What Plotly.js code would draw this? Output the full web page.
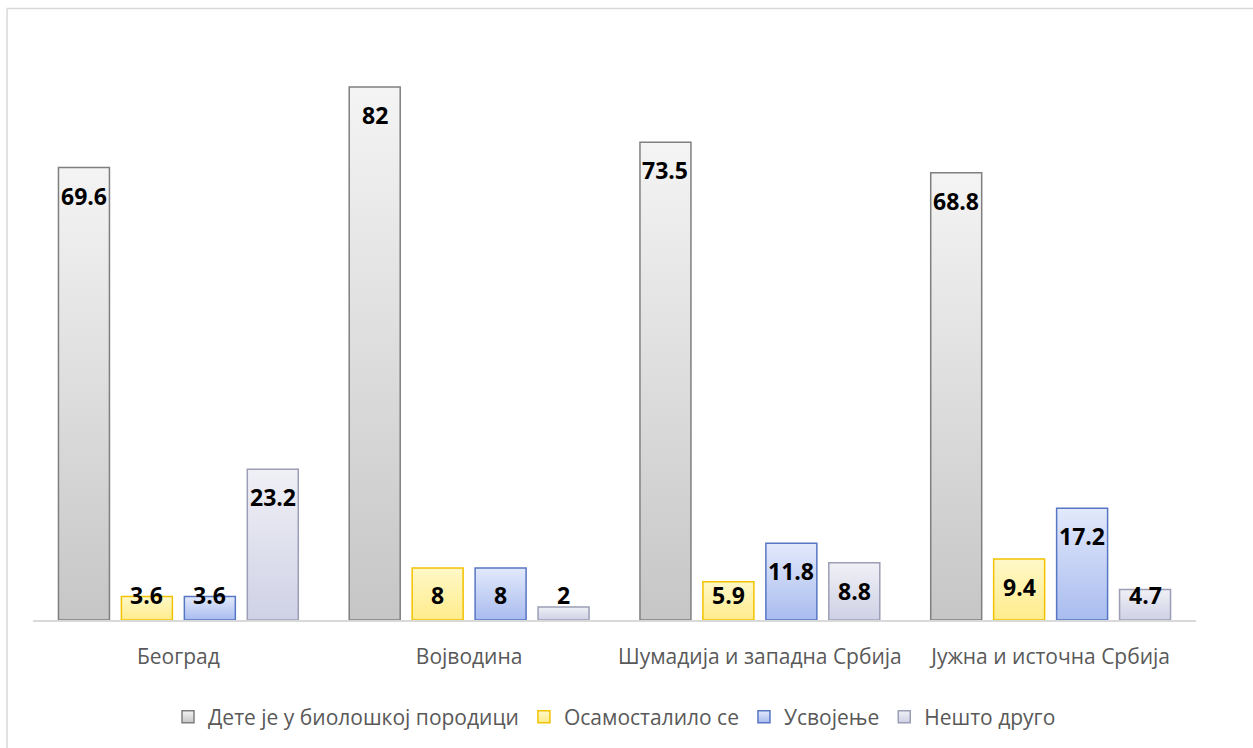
<!DOCTYPE html>
<html>
<head>
<meta charset="utf-8">
<script src="https://cdn.plot.ly/plotly-3.0.1.min.js"></script>
<style>
  html, body { margin: 0; padding: 0; background: #fff; }
  #chart { width: 1253px; height: 748px; }
</style>
</head>
<body>
<div id="chart"></div>
<script>
const categories = ["Београд", "Војводина", "Шумадија и западна Србија", "Јужна и источна Србија"];
const seriesNames = ["Дете је у биолошкој породици", "Осамосталило се", "Усвојење", "Нешто друго"];
const biological = [69.6, 82, 73.5, 68.8];
const independent = [3.6, 8, 5.9, 9.4];
const adoption = [3.6, 8, 11.8, 17.2];
const other = [23.2, 2, 8.8, 4.7];

const seriesValues = [biological, independent, adoption, other];
const fillColors = ["#dedede", "#fff3ad", "#c6d3f5", "#dfe0ec"];
const lineColors = ["#7f7f7f", "#f2c200", "#5776c4", "#9c9eb6"];
const gradTop = ["#f4f4f4", "#fff8c8", "#e2e9fb", "#f0f0f6"];
const gradBottom = ["#c6c6c6", "#ffec8c", "#a9bcef", "#cfd1e5"];

const bargap = 0.134;
const nSeries = seriesValues.length;
const slot = (1 - bargap) / nSeries;

const traces = seriesValues.map((vals, j) => ({
  type: "bar",
  name: seriesNames[j],
  x: categories,
  y: vals,
  marker: { color: fillColors[j], line: { color: lineColors[j], width: 1.5 } },
  hoverinfo: "none"
}));

const annotations = [];
seriesValues.forEach((vals, j) => {
  vals.forEach((v, i) => {
    annotations.push({
      x: i + (j - (nSeries - 1) / 2) * slot,
      y: Math.max(v - 4.3, 3.8),
      xref: "x", yref: "y",
      text: "<b>" + v + "</b>",
      showarrow: false,
      xanchor: "center", yanchor: "middle",
      font: { family: "Open Sans, sans-serif", size: 23, color: "#000" }
    });
  });
});

const layout = {
  width: 1253, height: 748,
  margin: { l: 33, r: 56.5, t: 35, b: 127 },
  paper_bgcolor: "#fff", plot_bgcolor: "rgba(0,0,0,0)",
  barmode: "group",
  bargap: bargap,
  bargroupgap: 0.19,
  showlegend: true,
  legend: {
    orientation: "h", x: 0.5, xanchor: "center", y: -0.164, yanchor: "middle",
    font: { family: "Open Sans, sans-serif", size: 21, color: "#595959" },
    traceorder: "normal"
  },
  xaxis: {
    type: "category",
    showline: true, linecolor: "#d9d9d9", linewidth: 1.5,
    showgrid: false, zeroline: false, ticks: "",
    ticklabelstandoff: 17,
    tickfont: { family: "Open Sans, sans-serif", size: 21, color: "#595959" },
    fixedrange: true
  },
  yaxis: {
    range: [0, 90], visible: false, showgrid: false, zeroline: false, fixedrange: true
  },
  annotations: annotations,
  shapes: [{
    type: "rect", xref: "paper", yref: "paper",
    x0: -0.0223, x1: 1.06, y0: -0.25, y1: 1.0455,
    line: { color: "#d9d9d9", width: 1.5 }, fillcolor: "rgba(0,0,0,0)", layer: "below"
  }]
};

Plotly.newPlot("chart", traces, layout, { displayModeBar: false, staticPlot: true }).then(gd => {
  const svg = gd.querySelector("svg.main-svg");
  let defs = svg.querySelector("defs");
  const ns = "http://www.w3.org/2000/svg";
  gradTop.forEach((c, j) => {
    const g = document.createElementNS(ns, "linearGradient");
    g.setAttribute("id", "bargrad" + j);
    g.setAttribute("x1", "0"); g.setAttribute("y1", "0");
    g.setAttribute("x2", "0"); g.setAttribute("y2", "1");
    const s1 = document.createElementNS(ns, "stop");
    s1.setAttribute("offset", "0"); s1.setAttribute("stop-color", c);
    const s2 = document.createElementNS(ns, "stop");
    s2.setAttribute("offset", "1"); s2.setAttribute("stop-color", gradBottom[j]);
    g.appendChild(s1); g.appendChild(s2);
    defs.appendChild(g);
  });
  gd.querySelectorAll(".barlayer .trace").forEach((tr, j) => {
    tr.querySelectorAll(".point path").forEach(p => { p.style.fill = "url(#bargrad" + j + ")"; });
  });
  gd.querySelectorAll(".legend .traces").forEach((tr, j) => {
    tr.querySelectorAll(".legendpoints path").forEach(p => { p.style.fill = "url(#bargrad" + j + ")"; });
  });
});
</script>
</body>
</html>
